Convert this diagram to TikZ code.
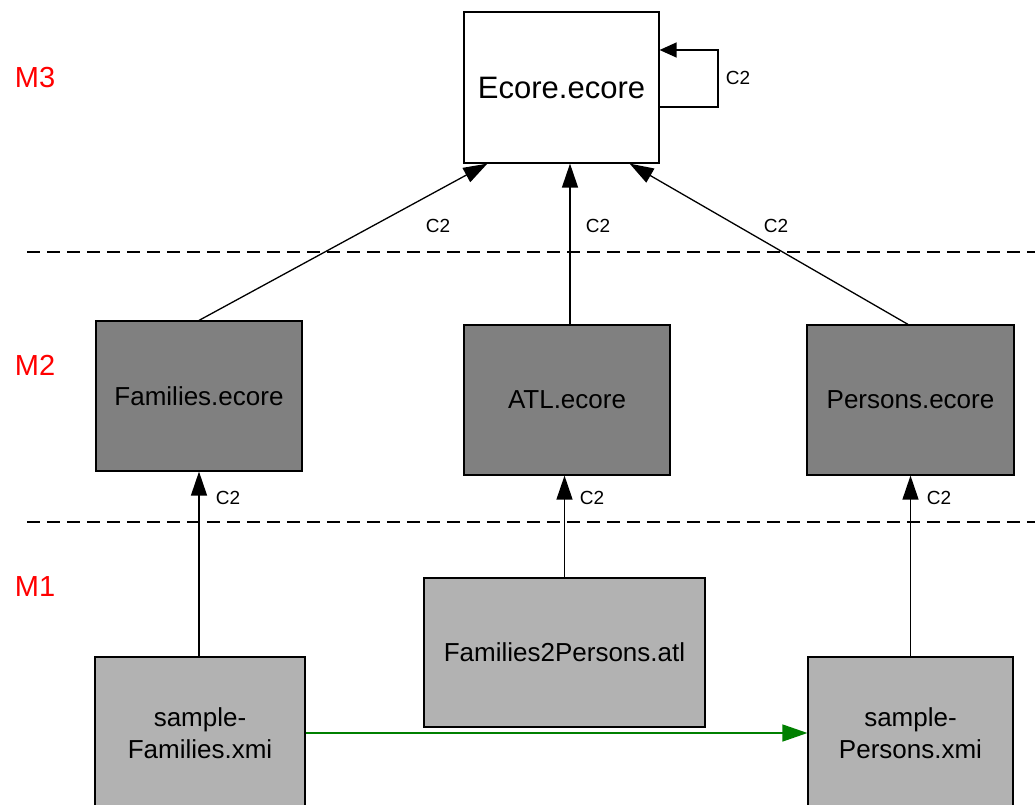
\documentclass[tikz,border=0pt]{standalone}
\usepackage{fontspec}
\setmainfont{Liberation Sans}
\usetikzlibrary{arrows.meta,calc}
\begin{document}
\begin{tikzpicture}[x=1pt,y=-1pt,
  box/.style={draw=black,line width=1.2pt,inner sep=0pt,align=center,font=\fontsize{26}{30}\selectfont},
  dark/.style={box,fill=black!50},
  light/.style={box,fill=black!30},
  conn/.style={draw=black,line width=1.3pt,-{Triangle[length=24pt,width=16pt]}},
  loopconn/.style={draw=black,line width=1.3pt,-{Triangle[length=17pt,width=15pt]}},
  lbl/.style={font=\fontsize{19}{22}\selectfont,inner sep=0pt},
  lvl/.style={font=\fontsize{29}{32}\selectfont,text=red,inner sep=0pt},
  sep/.style={draw=black,line width=1.2pt,dash pattern=on 13pt off 7pt}]
\definecolor{trgreen}{RGB}{0,128,0}
\useasboundingbox (0,0) rectangle (1035,805);
\clip (0,0) rectangle (1035,805);
% level separators
\draw[sep] (27,252) -- (1035,252);
\draw[sep] (27,522) -- (1035,522);
% level labels
\node[lvl] (m3) at (35,78) {M3};
\node[lvl] (m2) at (35,365) {M2};
\node[lvl] (m1) at (35,587) {M1};
% boxes
\node[box,fill=white,minimum width=195pt,minimum height=151pt,font=\fontsize{31}{34}\selectfont] (ecore) at (561.5,87.5) {Ecore.ecore};
\node[dark,minimum width=206pt,minimum height=150pt] (fam) at (199,396) {Families.ecore};
\node[dark,minimum width=206pt,minimum height=150pt] (atl) at (567,400) {ATL.ecore};
\node[dark,minimum width=207pt,minimum height=150pt] (per) at (910.5,400) {Persons.ecore};
\node[light,minimum width=281pt,minimum height=149pt] (f2p) at (564.5,652.5) {Families2Persons.atl};
\node[light,minimum width=210pt,minimum height=152pt] (sfam) at (200,733) {sample-\\[2pt]Families.xmi};
\node[light,minimum width=205pt,minimum height=152pt] (sper) at (910.5,733) {sample-\\[2pt]Persons.xmi};
% M2 -> M3
\draw[conn] (fam.north) -- ($(ecore.south west)+(24,0)$);
\draw[conn] ($(atl.north)+(3,0)$) -- ($(ecore.south)+(8.5,0)$);
\draw[conn] ($(per.north)+(-2.5,0)$) -- ($(ecore.south east)+(-30,0)$);
% self loop
\coordinate (l1) at (718,107);
\coordinate (l2) at (718,50);
\draw[loopconn] (ecore.east |- l1) -- (l1) -- (l2) -- (ecore.east |- l2);
% M1 -> M2
\draw[conn] (sfam.north -| fam.south) -- (fam.south);
\draw[conn] (f2p.north) -- (f2p.north |- atl.south);
\draw[conn] (sper.north) -- (per.south);
% transformation
\draw[draw=trgreen,fill=trgreen,line width=1.5pt,-{Triangle[length=25pt,width=17pt]}] (sfam.east) -- (sper.west);
% labels
\node[lbl] (c1) at (438,226) {C2};
\node[lbl] (c2) at (598,226) {C2};
\node[lbl] (c3) at (776,226) {C2};
\node[lbl] (c4) at (738,78) {C2};
\node[lbl] (c5) at (228,498) {C2};
\node[lbl] (c6) at (592,498) {C2};
\node[lbl] (c7) at (939,498) {C2};
\end{tikzpicture}
\end{document}
